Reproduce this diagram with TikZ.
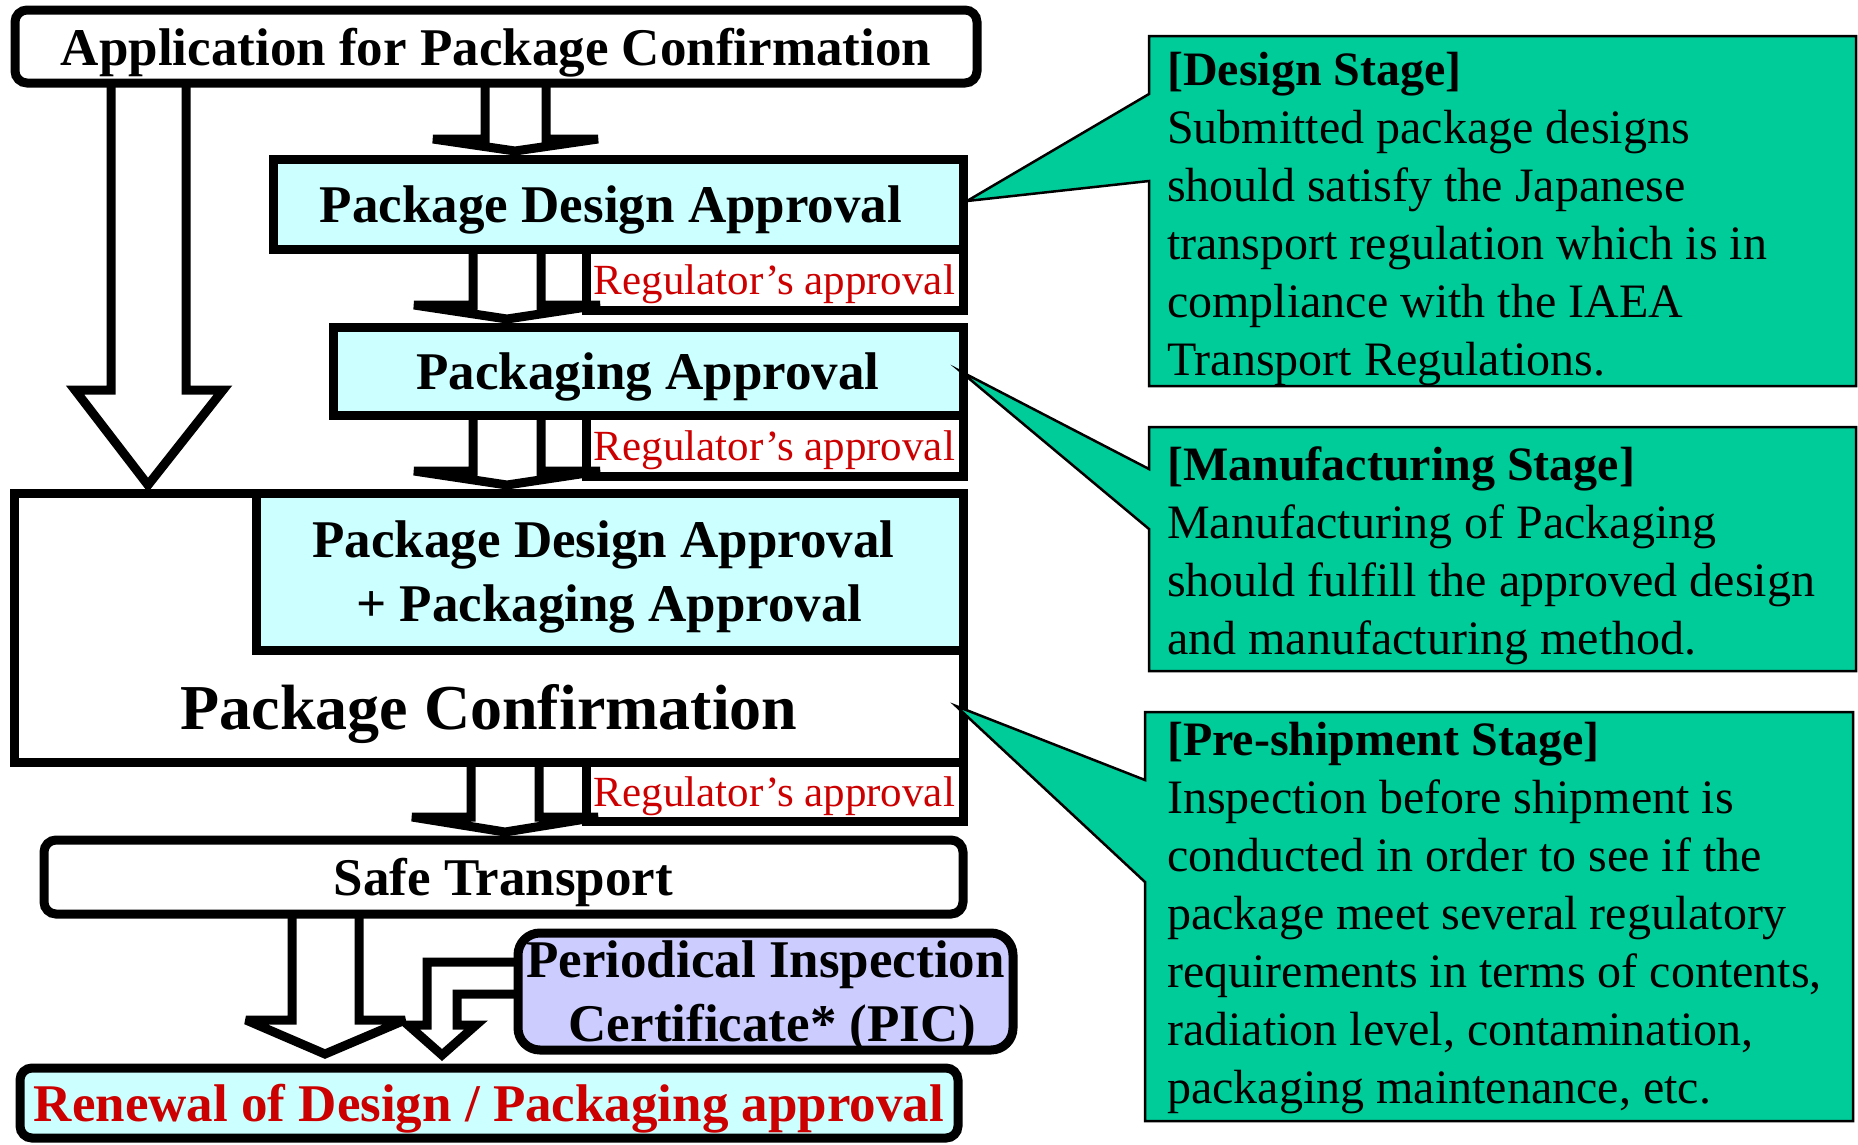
\documentclass[tikz,border=0pt]{standalone}
\usepackage{fontspec}
\setmainfont{Liberation Serif}
\definecolor{paleblue}{HTML}{CCFFFF}
\definecolor{lavender}{HTML}{CCCCFF}
\definecolor{stagegreen}{HTML}{00CC99}
\definecolor{regred}{HTML}{CC0000}
\tikzset{
  frame/.style={draw, line width=9pt, inner sep=0pt, text=black, text depth=0pt},
  rframe/.style={frame, rounded corners=12pt},
  title/.style={font=\fontsize{53}{64}\selectfont\bfseries},
  approvalbox/.style={frame, fill=white, text=regred, font=\fontsize{43}{50}\selectfont},
  blockarrow/.style={draw, fill=white, line width=9pt, line join=miter, miter limit=4},
  callout/.style={draw, fill=stagegreen, line width=2.5pt, line join=miter},
  stagetext/.style={anchor=base west, align=left, inner sep=0pt, font=\fontsize{48}{58}\selectfont},
}
\begin{document}
\begin{tikzpicture}[x=1pt,y=-1pt]
\useasboundingbox (0,0) rectangle (1858,1144);

% regulator approval tags (drawn first, arrow heads overlap them)
\node[approvalbox, minimum width=377pt, minimum height=61pt] (reg1) at (774.5,279.5) {Regulator’s approval};
\node[approvalbox, minimum width=377pt, minimum height=61pt] (reg2) at (774.5,445.5) {Regulator’s approval};
\node[approvalbox, minimum width=377pt, minimum height=59pt] (reg3) at (774.5,791.5) {Regulator’s approval};

% hollow block arrows
\draw[blockarrow] (111,83) -- (111,390) -- (75,390) -- (148,485) -- (223,390) -- (186,390) -- (186,83);
\draw[blockarrow] (485,83) -- (485,139) -- (433,139) -- (515,151) -- (598,139) -- (546,139) -- (546,83);
\draw[blockarrow] (473,249) -- (473,305) -- (414,305) -- (507,319) -- (600,305) -- (541,305) -- (541,249);
\draw[blockarrow] (473,415) -- (473,471) -- (414,471) -- (507,485) -- (600,471) -- (541,471) -- (541,415);
\draw[blockarrow] (471,762) -- (471,817) -- (412,817) -- (505,832) -- (598,817) -- (539,817) -- (539,762);
\draw[blockarrow] (292,914) -- (292,1020) -- (246,1020) -- (325,1054) -- (405,1020) -- (359,1020) -- (359,914);
\draw[blockarrow] (518,962) -- (427,962) -- (427,1025) -- (408,1025) -- (442,1055) -- (476,1025) -- (457,1025) -- (457,994) -- (518,994);

% main flow boxes
\node[rframe, fill=white, title, minimum width=962pt, minimum height=73pt] (app) at (496,46.5) {Application for Package Confirmation};
\node[frame, fill=paleblue, title, minimum width=690pt, minimum height=90pt] (pda) at (618,204) {Package Design Approval\hspace*{14pt}};
\node[frame, fill=paleblue, title, minimum width=630pt, minimum height=88pt] (pa) at (648,371) {Packaging Approval};
\node[frame, fill=white, minimum width=949pt, minimum height=269pt] (pc) at (488.5,627.5) {};
\node[frame, fill=paleblue, title, align=center, minimum width=707pt, minimum height=157pt] (both) at (609.5,571.5) {Package Design Approval\hspace*{12pt}\\+ Packaging Approval};
\node[inner sep=0pt, text depth=0pt, font=\fontsize{64}{70}\selectfont\bfseries] (pctext) at (489,707) {Package Confirmation};
\node[rframe, fill=white, title, minimum width=919pt, minimum height=74pt] (safe) at (503.5,877) {Safe Transport};
\node[frame, rounded corners=22pt, fill=lavender, title, align=center, minimum width=495pt, minimum height=117pt] (pic) at (765.5,991.5) {Periodical Inspection\\\hspace*{14pt}Certificate* (PIC)};
\node[rframe, fill=paleblue, title, text=regred, minimum width=938pt, minimum height=70pt] (renew) at (489,1103) {Renewal of Design / Packaging approval};

% stage call-outs
\draw[callout] (1149,36) -- (1856,36) -- (1856,386) -- (1149,386) -- (1149,181) -- (967,201) -- (1149,94) -- cycle;
\draw[callout] (1149,427) -- (1856,427) -- (1856,671) -- (1149,671) -- (1149,529) -- (960,371) -- (1149,469) -- cycle;
\draw[callout] (1145,712) -- (1853,712) -- (1853,1121) -- (1145,1121) -- (1145,882) -- (956,706) -- (1145,780) -- cycle;

% base anchor of a multi-line node sits on its last line
\node[stagetext] (design) at (1167,375) {\textbf{[Design Stage]}\\Submitted package designs\\should satisfy the Japanese\\transport regulation which is in\\compliance with the IAEA\\Transport Regulations.};
\node[stagetext] (manuf) at (1167,654) {\textbf{[Manufacturing Stage]}\\Manufacturing of Packaging\\should fulfill the approved design\\and manufacturing method.};
\node[stagetext] (preship) at (1167,1103) {\textbf{[Pre-shipment Stage]}\\Inspection before shipment is\\conducted in order to see if the\\package meet several regulatory\\requirements in terms of contents,\\radiation level, contamination,\\packaging maintenance, etc.};
\end{tikzpicture}
\end{document}
